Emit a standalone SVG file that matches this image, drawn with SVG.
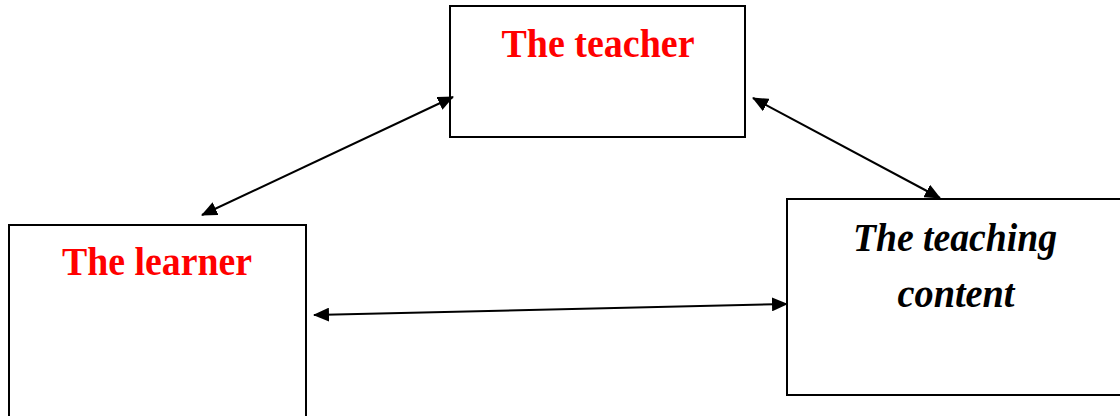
<svg xmlns="http://www.w3.org/2000/svg" width="1120" height="416" viewBox="0 0 1120 416">
<style>
.box{fill:#fff;stroke:#000;stroke-width:2}
.red{font-family:"Liberation Serif",serif;font-weight:bold;fill:#ff0000;font-size:40px;text-anchor:middle}
.blk{font-family:"Liberation Serif",serif;font-weight:bold;font-style:italic;fill:#000;font-size:40px;text-anchor:middle}
.conn{stroke:#000;stroke-width:2;fill:none;marker-start:url(#ah);marker-end:url(#ah)}
</style>
<defs>
<marker id="ah" viewBox="0 0 16 14" refX="15" refY="7" markerWidth="16" markerHeight="14" markerUnits="userSpaceOnUse" orient="auto-start-reverse">
<path d="M0,0 L16,7 L0,14 Z" fill="#000"/>
</marker>
</defs>
<rect width="1120" height="416" fill="#fff"/>
<g id="teacher">
<rect class="box" x="450" y="6" width="295" height="131"/>
<text class="red" x="598" y="57" textLength="193" lengthAdjust="spacingAndGlyphs">The teacher</text>
</g>
<g id="learner">
<rect class="box" x="9" y="225" width="297" height="200"/>
<text class="red" x="157" y="275" textLength="190" lengthAdjust="spacingAndGlyphs">The learner</text>
</g>
<g id="content">
<rect class="box" x="787" y="199" width="340" height="196"/>
<text class="blk" x="955" y="251" textLength="204" lengthAdjust="spacingAndGlyphs">The teaching</text>
<text class="blk" x="956" y="307" textLength="117" lengthAdjust="spacingAndGlyphs">content</text>
</g>
<g id="connectors">
<line class="conn" x1="202" y1="215" x2="453" y2="97"/>
<line class="conn" x1="753" y1="98" x2="940" y2="198"/>
<line class="conn" x1="314" y1="315" x2="787" y2="304"/>
</g>
</svg>
